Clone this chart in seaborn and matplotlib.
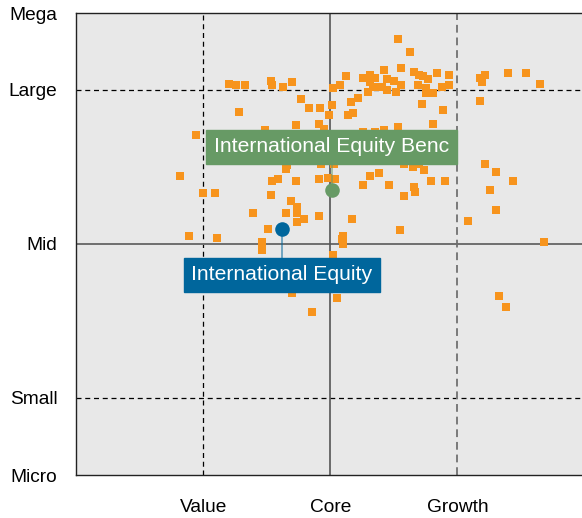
#Importations
import numpy as np
import pandas as pd
import seaborn as sns
import matplotlib.pyplot as plt

#Data - style box coordinates (value/core/growth = -100/0/100, small/mid/large = -100/0/100)
holding_x = [-80, -74, -67, -47, -46, -37, -30, 12, 2, 8, -23, -17, -8, 1, -1, 14, -72, -27, -9, -5,
             -51, -106, 53, 63, 26, 31, 35, 42, 56, 66, 70, 73, 77, 84, 93, 93, 88, 81, 75, 75,
             69, 56, 52, 50, 45, 45, 41, 37, 31, 30, 34, 16, 22, 18, 72, 89, 81, 53, 26, 35,
             42, 118, 122, 119, 140, 154, 165, 118, -118, -100, -91, -111, -89, -34, -35, -46, -41, -27, -9, -2,
             4, -47, -31, -61, -35, -26, -26, -21, -26, -9, -49, -54, -54, 10, 9, 10, -7, 3, 31, 38,
             26, 46, 58, 65, 70, 74, 79, 90, 66, 67, 58, 17, 55, 122, 130, 144, 126, 130, 108, 168,
             2, -30, 5, -14, 133, 138]
holding_y = [104, 103, 103, 106, 103, 102, 105, 109, 101, 103, 94, 88, 88, 90, 84, 84, 86, 77, 78, 75,
             74, 71, 133, 125, 108, 110, 108, 113, 114, 112, 110, 109, 107, 111, 110, 103, 102, 98, 98, 101,
             103, 103, 99, 106, 107, 100, 102, 102, 105, 99, 102, 92, 95, 85, 91, 87, 78, 76, 73, 73,
             74, 108, 110, 105, 111, 111, 104, 93, 44, 33, 33, 5, 4, 51, 49, 41, 42, 41, 42, 43,
             42, 32, 28, 20, 20, 24, 20, 16, 14, 18, 10, 1, -4, 5, 3, 0, 52, 52, 44, 46,
             38, 38, 52, 50, 52, 48, 41, 41, 37, 34, 31, 16, 9, 52, 47, 41, 35, 22, 15, 1,
             -7, -32, -35, -44, -34, -41]

fund_names = ["International Equity", "International Equity Benc"]
fund_x = [-38, 1]
fund_y = [10, 35]
fund_colors = ["#00669c", "#679a65"]
label_y = [-20, 63]

x_ticks = [-100, 0, 100]
x_labels = ["Value", "Core", "Growth"]
y_ticks = [-150, -100, 0, 100, 150]
y_labels = ["Micro", "Small", "Mid", "Large", "Mega"]

plt.rcParams['font.family'] = ['Liberation Sans', 'DejaVu Sans']

fig = plt.figure(figsize=(5.82, 5.18), dpi=100)
ax = fig.add_axes([76 / 582, 43 / 518, 506 / 582, 462 / 518])
ax.set_facecolor("#e8e8e8")

#Style box lines
ax.axhline(100, color="black", lw=0.9, ls=(0, (4, 3)), zorder=1)
ax.axhline(-100, color="black", lw=0.9, ls=(0, (4, 3)), zorder=1)
ax.axvline(-100, color="black", lw=0.9, ls=(0, (4, 3)), zorder=1)
ax.axvline(100, color="#7a7a7a", lw=1.4, ls=(0, (4, 2.5)), zorder=1)
ax.axhline(0, color="#6e6e6e", lw=1.4, zorder=1)
ax.axvline(0, color="#555555", lw=1.2, zorder=1)

#Holdings
df = pd.DataFrame({"x": holding_x, "y": holding_y})
sns.scatterplot(data=df, x="x", y="y", marker="s", s=26, color="#f7941d",
                linewidth=0, ax=ax, zorder=3, legend=False)

#Fund and benchmark markers with labels
for name, fx, fy, c, ly in zip(fund_names, fund_x, fund_y, fund_colors, label_y):
    ax.plot([fx, fx], [fy, ly], color=c, lw=1.2, alpha=0.6, zorder=4)
    ax.scatter(fx, fy, s=110, color=c, zorder=5, linewidths=0)
    ax.text(fx, ly, name, color="white", fontsize=15.2, ha="center", va="center", zorder=6,
            bbox=dict(boxstyle="square,pad=0.36", fc=c, ec=c, lw=1))

ax.set_xlim(-200, 198)
ax.set_ylim(-150, 150)
ax.set_xticks(x_ticks)
ax.set_xticklabels(x_labels, fontsize=13.8)
ax.set_yticks(y_ticks)
ax.set_yticklabels(y_labels, fontsize=13.8)
ax.tick_params(axis="x", length=0, pad=17.5)
ax.tick_params(axis="y", length=0, pad=13.5)
ax.set_xlabel("")
ax.set_ylabel("")

for side in ["left", "bottom", "top"]:
    ax.spines[side].set_color("#222222")
    ax.spines[side].set_linewidth(1.0)
ax.spines["right"].set_visible(False)

fig.savefig("out.png", dpi=100)
